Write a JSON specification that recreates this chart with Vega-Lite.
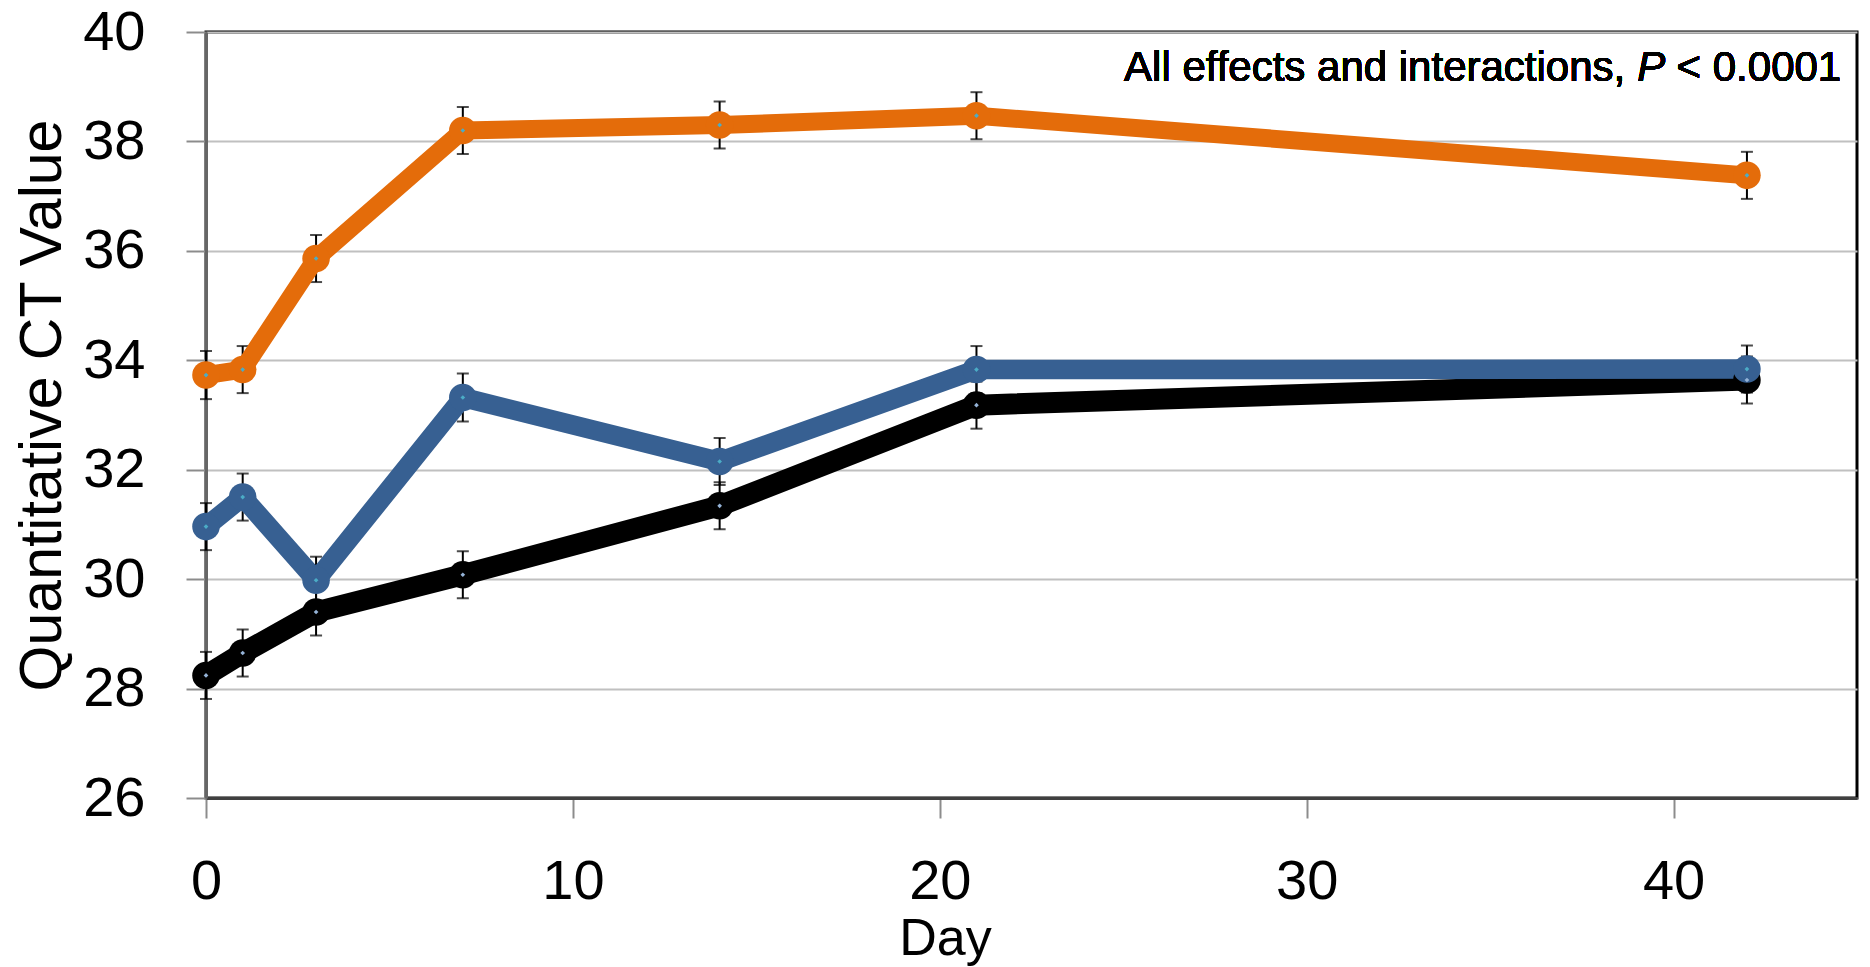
{
  "$schema": "https://vega.github.io/schema/vega-lite/v6.json",
  "width": 1651,
  "height": 766,
  "autosize": "none",
  "padding": {"left": 206, "top": 32, "right": 13, "bottom": 169},
  "background": "white",
  "config": {
    "font": "Liberation Sans",
    "view": {"stroke": "#000000", "strokeWidth": 3}
  },
  "data": {
    "values": [
      {"series": "Series 1", "day": 0, "ct": 28.24, "lo": 27.81, "hi": 28.67},
      {"series": "Series 1", "day": 1, "ct": 28.65, "lo": 28.22, "hi": 29.08},
      {"series": "Series 1", "day": 3, "ct": 29.4, "lo": 28.97, "hi": 29.83},
      {"series": "Series 1", "day": 7, "ct": 30.08, "lo": 29.65, "hi": 30.51},
      {"series": "Series 1", "day": 14, "ct": 31.34, "lo": 30.91, "hi": 31.77},
      {"series": "Series 1", "day": 21, "ct": 33.18, "lo": 32.75, "hi": 33.61},
      {"series": "Series 1", "day": 42, "ct": 33.64, "lo": 33.21, "hi": 34.07},
      {"series": "Series 2", "day": 0, "ct": 30.96, "lo": 30.53, "hi": 31.39},
      {"series": "Series 2", "day": 1, "ct": 31.5, "lo": 31.07, "hi": 31.93},
      {"series": "Series 2", "day": 3, "ct": 29.98, "lo": 29.55, "hi": 30.41},
      {"series": "Series 2", "day": 7, "ct": 33.32, "lo": 32.88, "hi": 33.76},
      {"series": "Series 2", "day": 14, "ct": 32.15, "lo": 31.72, "hi": 32.58},
      {"series": "Series 2", "day": 21, "ct": 33.83, "lo": 33.4, "hi": 34.26},
      {"series": "Series 2", "day": 42, "ct": 33.84, "lo": 33.41, "hi": 34.27},
      {"series": "Series 3", "day": 0, "ct": 33.73, "lo": 33.29, "hi": 34.17},
      {"series": "Series 3", "day": 1, "ct": 33.83, "lo": 33.4, "hi": 34.26},
      {"series": "Series 3", "day": 3, "ct": 35.86, "lo": 35.43, "hi": 36.29},
      {"series": "Series 3", "day": 7, "ct": 38.2, "lo": 37.77, "hi": 38.63},
      {"series": "Series 3", "day": 14, "ct": 38.3, "lo": 37.87, "hi": 38.73},
      {"series": "Series 3", "day": 21, "ct": 38.47, "lo": 38.04, "hi": 38.9},
      {"series": "Series 3", "day": 42, "ct": 37.38, "lo": 36.95, "hi": 37.81}
    ]
  },
  "layer": [
    {
      "mark": {"type": "rule", "color": "#000000", "strokeWidth": 2},
      "encoding": {
        "x": {
          "field": "day", "type": "quantitative",
          "scale": {"domain": [0, 45], "nice": false},
          "axis": {
            "values": [0, 10, 20, 30, 40],
            "format": "d",
            "grid": false,
            "tickSize": 20, "tickColor": "#8c8c8c", "tickWidth": 2,
            "domainColor": "#404040", "domainWidth": 3,
            "labelFontSize": 56, "labelPadding": 36, "labelColor": "#000000",
            "labelFlush": false, "labelOverlap": false,
            "title": "Day", "titleFontSize": 52, "titleFontWeight": "normal", "titleColor": "#000000",
            "titleX": 739, "titleY": 156, "titleBaseline": "alphabetic", "titleAlign": "center"
          }
        },
        "y": {
          "field": "lo", "type": "quantitative",
          "scale": {"domain": [26, 40], "nice": false, "zero": false},
          "axis": {
            "values": [26, 28, 30, 32, 34, 36, 38, 40],
            "format": "d",
            "grid": true, "gridColor": "#c0c0c0", "gridWidth": 2,
            "tickSize": 20, "tickColor": "#8c8c8c", "tickWidth": 2,
            "domainColor": "#666666", "domainWidth": 3,
            "labelFontSize": 56, "labelPadding": 41, "labelColor": "#000000",
            "labelFlush": false, "labelOverlap": false,
            "title": "Quantitative CT Value", "titleFontSize": 59, "titleFontWeight": "normal", "titleColor": "#000000",
            "titleAngle": -90, "titleX": -146, "titleY": 373, "titleBaseline": "alphabetic", "titleAlign": "center"
          }
        },
        "y2": {"field": "hi"}
      }
    },
    {
      "mark": {"type": "tick", "orient": "horizontal", "color": "#000000", "size": 12, "thickness": 2},
      "encoding": {
        "x": {"field": "day", "type": "quantitative"},
        "y": {"field": "lo", "type": "quantitative"}
      }
    },
    {
      "mark": {"type": "tick", "orient": "horizontal", "color": "#000000", "size": 12, "thickness": 2},
      "encoding": {
        "x": {"field": "day", "type": "quantitative"},
        "y": {"field": "hi", "type": "quantitative"}
      }
    },
    {
      "mark": {"type": "line", "strokeJoin": "round", "strokeCap": "round"},
      "encoding": {
        "x": {"field": "day", "type": "quantitative"},
        "y": {"field": "ct", "type": "quantitative"},
        "color": {
          "field": "series", "type": "nominal",
          "scale": {"domain": ["Series 1", "Series 2", "Series 3"], "range": ["#000000", "#376092", "#E46C0A"]},
          "legend": null
        },
        "size": {
          "field": "series", "type": "nominal",
          "scale": {"domain": ["Series 1", "Series 2", "Series 3"], "range": [21, 18, 18]},
          "legend": null
        }
      }
    },
    {
      "mark": {"type": "point", "shape": "circle", "filled": true, "size": 760, "opacity": 1},
      "encoding": {
        "x": {"field": "day", "type": "quantitative"},
        "y": {"field": "ct", "type": "quantitative"},
        "color": {"field": "series", "type": "nominal", "legend": null}
      }
    },
    {
      "mark": {"type": "point", "shape": "diamond", "filled": true, "size": 22, "opacity": 1},
      "encoding": {
        "x": {"field": "day", "type": "quantitative"},
        "y": {"field": "ct", "type": "quantitative"},
        "fill": {
          "field": "series", "type": "nominal",
          "scale": {"domain": ["Series 1", "Series 2", "Series 3"], "range": ["#95B3D7", "#4BACC6", "#4BACC6"]},
          "legend": null
        }
      }
    },
    {
      "mark": {"type": "text", "text": "< 0.0001", "align": "right", "baseline": "alphabetic", "fontSize": 42, "color": "#000000"},
      "encoding": {"x": {"datum": 44.57, "type": "quantitative"}, "y": {"datum": 39.1, "type": "quantitative"}}
    },
    {
      "mark": {"type": "text", "text": "P", "align": "right", "baseline": "alphabetic", "fontSize": 42, "fontStyle": "italic", "color": "#000000", "dx": -176},
      "encoding": {"x": {"datum": 44.57, "type": "quantitative"}, "y": {"datum": 39.1, "type": "quantitative"}}
    },
    {
      "mark": {"type": "text", "text": "All effects and interactions,", "align": "right", "baseline": "alphabetic", "fontSize": 42, "color": "#000000", "dx": -216},
      "encoding": {"x": {"datum": 44.57, "type": "quantitative"}, "y": {"datum": 39.1, "type": "quantitative"}}
    }
  ]
}
